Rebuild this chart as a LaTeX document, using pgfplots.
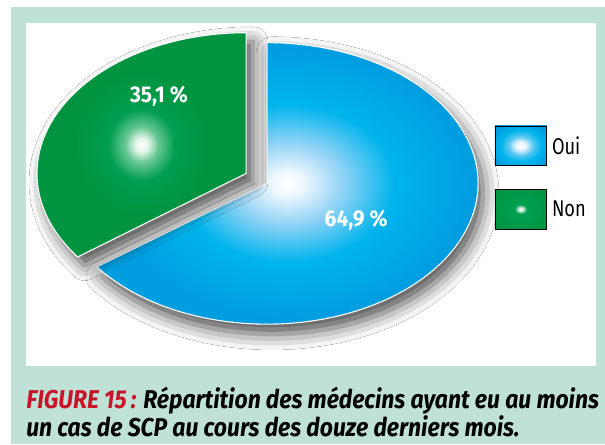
\documentclass[border=0pt]{standalone}
\usepackage{fontspec}
\setmainfont{Fira Sans}
\newfontfamily\semib{Fira Sans}[FakeStretch=0.92]
\newfontfamily\capfont{Fira Sans}[FakeStretch=0.89]
\newfontfamily\legfont{Fira Sans}[FakeStretch=0.8]
\usepackage{pgfplots}
\usepackage{pgfplotstable}
\pgfplotsset{compat=1.18}
\usetikzlibrary{shadows.blur}

\definecolor{framegreen}{RGB}{191,225,214}
\definecolor{capred}{RGB}{200,20,40}
\definecolor{bluedark}{RGB}{0,157,224}
\definecolor{bluemid}{RGB}{0,180,236}
\definecolor{bluelight}{RGB}{150,212,246}
\definecolor{greendark}{RGB}{0,148,64}
\definecolor{greenmid}{RGB}{0,158,80}
\definecolor{greenlight}{RGB}{170,225,190}

\pgfdeclareradialshading{bluepie}{\pgfpoint{0bp}{0bp}}{%
  color(0bp)=(white); color(2bp)=(white!85!bluelight); color(7bp)=(bluelight);
  color(14bp)=(bluemid); color(24bp)=(bluedark); color(100bp)=(bluedark)}
\pgfdeclareradialshading{greenpie}{\pgfpoint{0bp}{0bp}}{%
  color(0bp)=(white); color(1.5bp)=(white!70!greenlight); color(4bp)=(greenlight!60!greenmid);
  color(8bp)=(greenmid); color(16bp)=(greendark); color(100bp)=(greendark)}
\pgfdeclareradialshading{ouibox}{\pgfpoint{0bp}{0bp}}{%
  color(0bp)=(white); color(5bp)=(white!75!bluelight); color(12bp)=(bluelight!60!bluemid);
  color(20bp)=(bluemid); color(30bp)=(bluedark); color(100bp)=(bluedark)}
\pgfdeclareradialshading{nonbox}{\pgfpoint{0bp}{0bp}}{%
  color(0bp)=(white); color(2bp)=(white!50!greenlight); color(6bp)=(greenmid);
  color(18bp)=(greenmid!70!greendark); color(30bp)=(greendark); color(100bp)=(greendark)}

\pgfplotstableread{
label value
Oui 64.9
Non 35.1
}\piedata

\begin{document}
\pgfplotstablegetelem{0}{value}\of\piedata\let\vOui\pgfplotsretval
\pgfplotstablegetelem{1}{value}\of\piedata\let\vNon\pgfplotsretval
\pgfmathsetmacro\aNon{90+3.6*\vNon}
\pgfmathsetmacro\aOui{\aNon+3.6*\vOui}
\begin{tikzpicture}
\begin{axis}[
  width=605pt, height=448pt, scale only axis,
  xmin=0, xmax=605, ymin=0, ymax=448, y dir=reverse,
  axis lines=none, clip=false]
% frame
\fill[white] (axis cs:0,0) rectangle (axis cs:605,448);
\fill[framegreen] (axis cs:6,7) rectangle (axis cs:605,448);
\fill[white] (axis cs:21,23) rectangle (axis cs:596,369);
% Oui slice
\addplot[shade, shading=bluepie, draw=white, line width=1.1pt,
  samples=150, domain=\aNon:\aOui, variable=\t,
  blur shadow={shadow xshift=5pt, shadow yshift=-10pt, shadow blur radius=16pt, shadow opacity=70}]
  ({264+213*cos(\t)},{185-142*sin(\t)}) -- (axis cs:264,185) -- cycle;
% Non slice
\addplot[shade, shading=greenpie, draw=white, line width=1.1pt,
  samples=120, domain=90:\aNon, variable=\t,
  blur shadow={shadow xshift=7pt, shadow yshift=-9pt, shadow blur radius=15pt, shadow opacity=70}]
  ({243+211*cos(\t)},{175-142*sin(\t)}) -- (axis cs:243,175) -- cycle;
% labels
\node[white, font=\semib\bfseries\fontsize{23}{26}\selectfont] at (axis cs:155,97) {35,1 \%};
\node[white, font=\semib\bfseries\fontsize{23}{26}\selectfont] at (axis cs:354,222) {64,9 \%};
% legend
\draw[black, line width=0.8pt, shading=ouibox] (axis cs:494,127) rectangle (axis cs:546,167);
\draw[black, line width=0.8pt, shading=nonbox] (axis cs:494,191) rectangle (axis cs:546,231);
\node[anchor=west, font=\legfont\fontsize{23}{26}\selectfont] at (axis cs:548,147) {Oui};
\node[anchor=west, font=\legfont\fontsize{23}{26}\selectfont] at (axis cs:548,211) {Non};
% caption
\node[anchor=base west, inner sep=0pt, font=\capfont\itshape\bfseries\fontsize{26}{30}\selectfont] at (axis cs:21,412)
  {\textcolor{capred}{FIGURE 15\,:} Répartition des médecins ayant eu au moins};
\node[anchor=base west, inner sep=0pt, font=\capfont\itshape\bfseries\fontsize{26}{30}\selectfont] at (axis cs:21,440)
  {un cas de SCP au cours des douze derniers mois.};
\end{axis}
\end{tikzpicture}
\end{document}
